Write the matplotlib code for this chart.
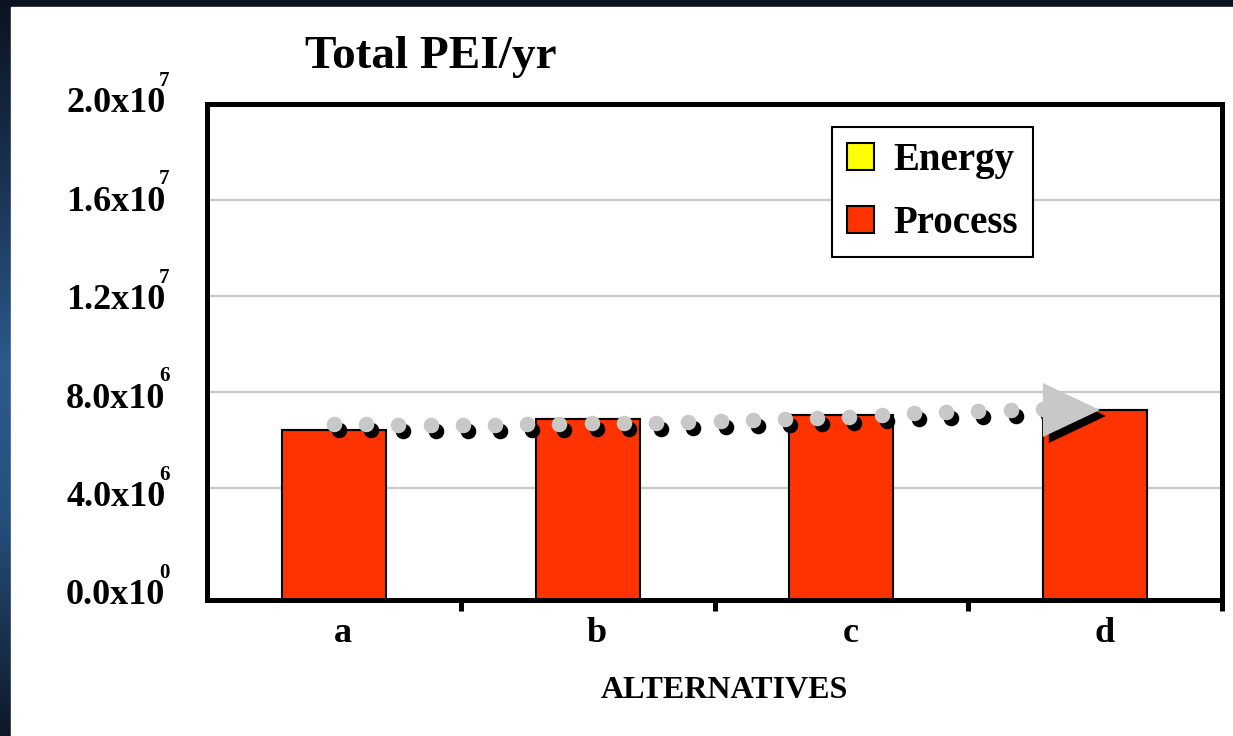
import numpy as np
import matplotlib
matplotlib.use("Agg")
import matplotlib.pyplot as plt
from matplotlib.patches import Rectangle, Polygon
from matplotlib.transforms import ScaledTranslation
from matplotlib.colors import LinearSegmentedColormap

# ---------------- data ----------------
categories = ["a", "b", "c", "d"]
process = [6.42e6, 6.875e6, 7.04e6, 7.25e6]
energy = [0.0, 0.0, 0.0, 0.0]
series_names = ["Energy", "Process"]
ytick_values = [0.0, 4.0e6, 8.0e6, 1.2e7, 1.6e7, 2.0e7]
ytick_mantissas = ["0.0x10", "4.0x10", "8.0x10", "1.2x10", "1.6x10", "2.0x10"]
ytick_exponents = ["0", "6", "6", "7", "7", "7"]
title = "Total PEI/yr"
xlabel = "ALTERNATIVES"
# trend arrow drawn over the bars (dot heights)
trend_y = [6.667e6, 6.667e6, 6.625e6, 6.625e6, 6.625e6, 6.625e6, 6.667e6, 6.667e6,
           6.708e6, 6.708e6, 6.708e6, 6.75e6, 6.79e6, 6.83e6, 6.875e6, 6.917e6,
           6.958e6, 7.04e6, 7.125e6, 7.167e6, 7.21e6, 7.25e6, 7.29e6]
arrow_head = [(2.794, 8.375e6), (3.019, 7.25e6), (2.794, 6.125e6)]

W, H = 1233, 736
DPI = 100
SERIF = ["Liberation Serif", "DejaVu Serif"]

fig = plt.figure(figsize=(W / DPI, H / DPI), dpi=DPI)

# ---------------- background frame ----------------
bg = fig.add_axes([0, 0, 1, 1])
bg.set_axis_off()
cmap = LinearSegmentedColormap.from_list(
    "side", [(0.0, "#0b1320"), (0.25, "#1a3352"), (0.5, "#2c5b8c"),
             (0.7, "#26507d"), (1.0, "#0e1828")])
grad = np.linspace(0, 1, 256).reshape(-1, 1)
bg.imshow(grad, cmap=cmap, extent=[0, 11, H, 0], aspect="auto", zorder=0)
bg.add_patch(Rectangle((0, 0), W, 7, color="#0b1320", zorder=1))
bg.add_patch(Rectangle((11, 7), W - 11, H - 7, color="white", zorder=1))
bg.set_xlim(0, W)
bg.set_ylim(H, 0)

# ---------------- main axes ----------------
ax_l, ax_r, ax_t, ax_b = 207, 1222, 104, 600
ax = fig.add_axes([ax_l / W, 1 - ax_b / H, (ax_r - ax_l) / W, (ax_b - ax_t) / H])
ax.set_facecolor("none")
BASE = -0.6667e6  # axis floor of the original chart
ax.set_xlim(-0.5, 3.5)
ax.set_ylim(BASE, 2.0e7)

x = np.arange(len(categories))
proc = np.array(process)
b_proc = ax.bar(x, proc - BASE, bottom=BASE, width=0.41, color="#ff3300",
                edgecolor="black", linewidth=1.5, zorder=3, label=series_names[1])
b_en = ax.bar(x, energy, bottom=proc, width=0.41, color="#ffff00",
              edgecolor="black", linewidth=1.5, zorder=3, label=series_names[0])

# grid lines (none at zero)
for v in ytick_values:
    if v > 0:
        ax.axhline(v, color="#c8c8c8", linewidth=1.6, zorder=1)

for s in ax.spines.values():
    s.set_linewidth(3.6)
    s.set_color("black")
    s.set_zorder(10)

# y ticks
ax.set_yticks(ytick_values)
ax.set_yticklabels(ytick_mantissas, fontsize=26, fontweight="bold", family=SERIF)
ax.tick_params(axis="y", length=0, pad=30)
for lbl, v, e in zip(ax.get_yticklabels(), ytick_values, ytick_exponents):
    dy = -4 + 12 * (1 - v / 2.0e7)  # pixels downward
    lbl.set_transform(lbl.get_transform() +
                      ScaledTranslation(0, -dy / DPI, fig.dpi_scale_trans))
    ax.annotate(e, xy=(0, v), xycoords=ax.get_yaxis_transform(),
                xytext=(-48, 19 - dy), textcoords="offset pixels",
                ha="left", va="center", fontsize=15, fontweight="bold",
                family=SERIF, annotation_clip=False)

# x ticks
ax.set_xticks(x)
ax.set_xticklabels(categories, fontsize=26, fontweight="bold", family=SERIF)
ax.tick_params(axis="x", which="major", length=0, pad=12)
ax.set_xticks(x + 0.5, minor=True)
ax.tick_params(axis="x", which="minor", length=8, width=3.6, direction="out")
shift = ScaledTranslation(9 / DPI, 0, fig.dpi_scale_trans)
for lbl in ax.get_xticklabels():
    lbl.set_transform(lbl.get_transform() + shift)

# trend arrow (dots with shadow)
shadow = ax.transData + ScaledTranslation(5 / DPI, -6 / DPI, fig.dpi_scale_trans)
dot_x = np.arange(len(trend_y)) * 0.127
ax.plot(dot_x, trend_y, "o", color="black", markersize=11.2, markeredgewidth=0,
        transform=shadow, zorder=4)
ax.plot(dot_x, trend_y, "o", color="#c8c8c8", markersize=11.2, markeredgewidth=0,
        zorder=5)
ax.add_patch(Polygon(arrow_head, closed=True, fc="black", ec="none",
                     transform=ax.transData + ScaledTranslation(6 / DPI, -6 / DPI, fig.dpi_scale_trans),
                     zorder=4))
ax.add_patch(Polygon(arrow_head, closed=True, fc="#c8c8c8", ec="none", zorder=5))

# legend
leg = ax.legend(handles=[b_en, b_proc], labels=series_names,
                loc="upper left",
                bbox_to_anchor=((832 - ax_l) / (ax_r - ax_l), (ax_b - 127) / (ax_b - ax_t)),
                prop={"family": SERIF, "weight": "bold", "size": 28},
                frameon=True, fancybox=False, framealpha=1, edgecolor="black",
                borderpad=0.38, handlelength=0.7, handleheight=0.7,
                handletextpad=0.5, labelspacing=0.68, borderaxespad=0)
leg.get_frame().set_linewidth(1.5)
leg.set_zorder(20)

# title and axis label
fig.text(305 / W, 1 - 68 / H, title, ha="left", va="baseline", fontsize=34,
         fontweight="bold", family=SERIF)
fig.text(724 / W, 1 - 690 / H, xlabel, ha="center", va="center", fontsize=23,
         fontweight="bold", family=SERIF)

fig.savefig("out.png", dpi=DPI)
